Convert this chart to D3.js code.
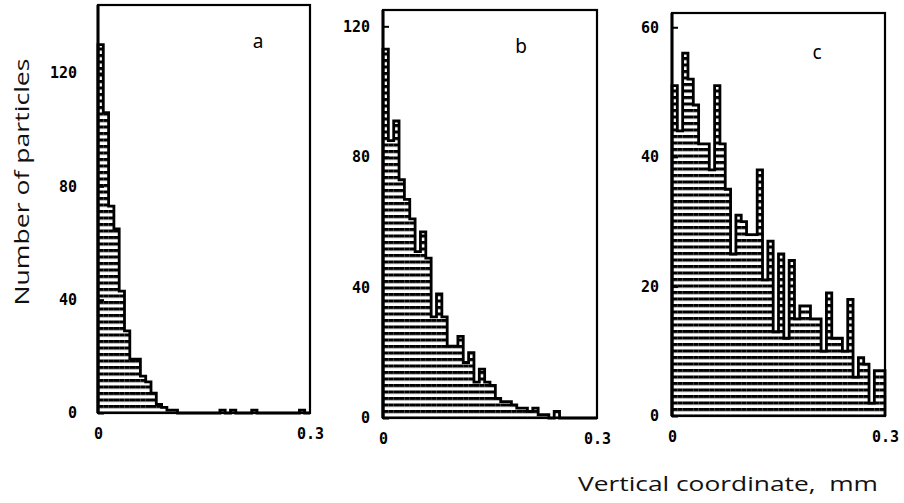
<!DOCTYPE html>
<html>
<head>
<meta charset="utf-8">
<script src="https://cdn.jsdelivr.net/npm/d3@7"></script>
<style>
  body { margin: 0; background: #fff; }
  svg { display: block; }
</style>
</head>
<body>
<div id="chart"></div>
<script>
// particle counts per bin (40 bins of 0.0075 mm, from 0 to 0.3 mm)
var panelA = [130, 106, 73, 65, 43, 29, 19, 19, 13, 11, 7, 3, 2, 1, 1, 0, 0, 0, 0, 0,
              0, 0, 0, 1, 0, 1, 0, 0, 0, 1, 0, 0, 0, 0, 0, 0, 0, 0, 1, 0];
var panelB = [113, 85, 91, 73, 67, 61, 51, 57, 49, 31, 38, 31, 22, 22, 25, 17, 20, 11, 15, 11,
              10, 6, 5, 5, 4, 3, 3, 2, 3, 1, 1, 0, 2, 0, 0, 0, 0, 0, 0, 0];
var panelC = [51, 44, 56, 52, 48, 42, 42, 38, 51, 42, 35, 25, 31, 30, 28, 28, 38, 21, 27, 13,
              25, 12, 24, 15, 17, 17, 15, 15, 10, 19, 12, 12, 10, 18, 6, 9, 8, 2, 7, 7];

var panelLetters = ["a", "b", "c"];
var yTicksA = [0, 40, 80, 120];
var yTicksB = [0, 40, 80, 120];
var yTicksC = [0, 20, 40, 60];
var yMaxA = 144, yMaxB = 125, yMaxC = 62.2;
var xTickValues = [0, 0.3];
var xTickLabels = ["0", "0.3"];
var binSize = 0.0075;
var xMax = 0.3;

var width = 904;
var height = 503;

var svg = d3.select("#chart")
    .append("svg")
    .attr("width", width)
    .attr("height", height);

var panels = [
    { counts: panelA, ticks: yTicksA, yMax: yMaxA, left: 98, right: 310, top: 5, bottom: 413, pad: 21, lx: 258, ly: 48 },
    { counts: panelB, ticks: yTicksB, yMax: yMaxB, left: 383, right: 597, top: 10, bottom: 418, pad: 13, lx: 521, ly: 53 },
    { counts: panelC, ticks: yTicksC, yMax: yMaxC, left: 672, right: 885, top: 13, bottom: 416, pad: 13, lx: 817, ly: 59 }
];

var defs = svg.append("defs");

function styleTicks(sel) {
    sel.selectAll(".tick text")
        .style("font-family", "'DejaVu Sans Mono', monospace")
        .style("font-weight", "bold")
        .style("font-size", "15px")
        .style("fill", "#000");
}

panels.forEach(function (p, k) {

    var x = d3.scaleLinear().domain([0, xMax]).range([p.left, p.right]);
    var y = d3.scaleLinear().domain([0, p.yMax]).range([p.bottom, p.top]);

    // horizontal hatching, lined up with the baseline of the panel
    var pat = defs.append("pattern")
        .attr("id", "hatch" + k)
        .attr("patternUnits", "userSpaceOnUse")
        .attr("width", 8)
        .attr("height", 6.5)
        .attr("patternTransform", "translate(0," + (p.bottom - 1.5) + ")");
    pat.append("rect")
        .attr("x", 0).attr("y", 0)
        .attr("width", 8).attr("height", 3.1)
        .attr("fill", "#000");

    var g = svg.append("g");

    var bins = p.counts.map(function (v, i) {
        return { x0: i * binSize, x1: (i + 1) * binSize, v: v };
    });

    g.selectAll("rect.bar")
        .data(bins)
        .join("rect")
        .attr("class", "bar")
        .attr("x", d => x(d.x0))
        .attr("y", d => y(d.v))
        .attr("width", d => x(d.x1) - x(d.x0))
        .attr("height", d => y(0) - y(d.v))
        .attr("fill", "url(#hatch" + k + ")");

    // step outline of the histogram
    var pts = [[0, 0]];
    bins.forEach(function (d) {
        pts.push([d.x0, d.v]);
        pts.push([d.x1, d.v]);
    });
    pts.push([xMax, 0]);

    var line = d3.line()
        .x(d => x(d[0]))
        .y(d => y(d[1]));

    g.append("path")
        .attr("d", line(pts))
        .attr("fill", "none")
        .attr("stroke", "#000")
        .attr("stroke-width", 2.8)
        .attr("stroke-linejoin", "miter");

    // frame
    g.append("rect")
        .attr("x", p.left)
        .attr("y", p.top)
        .attr("width", p.right - p.left)
        .attr("height", p.bottom - p.top)
        .attr("fill", "none")
        .attr("stroke", "#000")
        .attr("stroke-width", 2.2);

    g.append("line")
        .attr("x1", p.left).attr("x2", p.left)
        .attr("y1", p.top).attr("y2", p.bottom)
        .attr("stroke", "#000")
        .attr("stroke-width", 3);

    var yAxis = g.append("g")
        .attr("transform", "translate(" + p.left + ",0)")
        .call(d3.axisLeft(y).tickValues(p.ticks).tickSize(-6).tickPadding(p.pad));
    yAxis.select(".domain").remove();
    yAxis.selectAll(".tick line").attr("stroke", "#000").attr("stroke-width", 2);
    styleTicks(yAxis);

    var xAxis = g.append("g")
        .attr("transform", "translate(0," + p.bottom + ")")
        .call(d3.axisBottom(x).tickValues(xTickValues)
            .tickFormat((d, i) => xTickLabels[i])
            .tickSize(0).tickPadding(15));
    xAxis.select(".domain").remove();
    styleTicks(xAxis);

    g.append("text")
        .attr("x", p.lx)
        .attr("y", p.ly)
        .attr("text-anchor", "middle")
        .style("font-family", "'Noto Sans', sans-serif")
        .style("font-size", "19px")
        .text(panelLetters[k]);
});

svg.append("text")
    .attr("transform", "translate(29,182) rotate(-90)")
    .attr("text-anchor", "middle")
    .attr("textLength", 247)
    .attr("lengthAdjust", "spacingAndGlyphs")
    .style("font-family", "'Open Sans', sans-serif")
    .style("font-size", "20px")
    .style("fill", "#111")
    .text("Number of particles");

svg.append("text")
    .attr("x", 578)
    .attr("y", 491)
    .attr("textLength", 300)
    .attr("lengthAdjust", "spacingAndGlyphs")
    .style("font-family", "'Open Sans', sans-serif")
    .style("font-size", "20px")
    .style("fill", "#111")
    .text("Vertical coordinate,\u00a0\u00a0mm");
</script>
</body>
</html>
